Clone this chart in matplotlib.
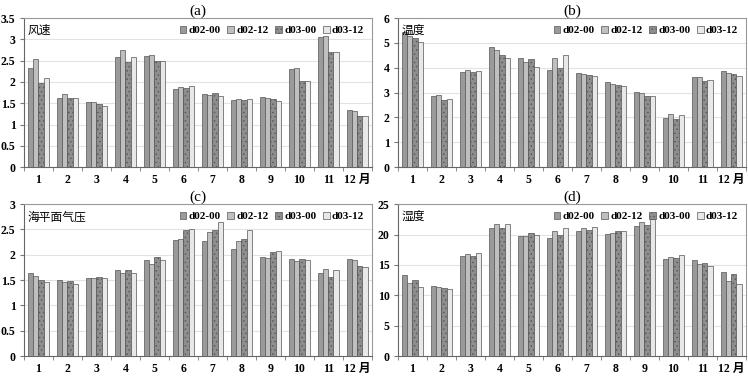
import numpy as np
import matplotlib
matplotlib.use('Agg')
import matplotlib.pyplot as plt

plt.rcParams['font.family'] = ['Liberation Serif', 'Noto Sans CJK SC']
plt.rcParams['hatch.color'] = '#6a6a6a'
plt.rcParams['hatch.linewidth'] = 0.5

months = ['1', '2', '3', '4', '5', '6', '7', '8', '9', '10', '11', '12 月']
series_names = ['d02-00', 'd02-12', 'd03-00', 'd03-12']

# (a) wind speed
wind = [
    [2.33, 1.63, 1.54, 2.58, 2.60, 1.84, 1.72, 1.57, 1.65, 2.30, 3.05, 1.33],
    [2.54, 1.71, 1.53, 2.74, 2.64, 1.88, 1.69, 1.60, 1.63, 2.33, 3.08, 1.32],
    [1.97, 1.62, 1.48, 2.48, 2.49, 1.87, 1.75, 1.58, 1.60, 2.02, 2.70, 1.19],
    [2.09, 1.62, 1.44, 2.59, 2.49, 1.90, 1.68, 1.60, 1.56, 2.02, 2.70, 1.21],
]

# (b) temperature
temp = [
    [5.45, 2.87, 3.85, 4.82, 4.41, 3.93, 3.81, 3.43, 3.01, 1.98, 3.61, 3.88],
    [5.30, 2.91, 3.90, 4.71, 4.22, 4.39, 3.76, 3.33, 2.98, 2.12, 3.64, 3.79],
    [5.18, 2.72, 3.84, 4.51, 4.36, 3.99, 3.70, 3.31, 2.88, 1.93, 3.47, 3.76],
    [5.05, 2.74, 3.88, 4.40, 4.02, 4.52, 3.68, 3.25, 2.88, 2.09, 3.52, 3.68],
]

# (c) sea level pressure
slp = [
    [1.64, 1.51, 1.55, 1.70, 1.90, 2.30, 2.28, 2.11, 1.95, 1.91, 1.64, 1.91],
    [1.58, 1.47, 1.54, 1.65, 1.82, 2.32, 2.45, 2.28, 1.94, 1.87, 1.72, 1.89],
    [1.50, 1.48, 1.56, 1.69, 1.95, 2.48, 2.48, 2.31, 2.06, 1.91, 1.57, 1.77],
    [1.46, 1.42, 1.54, 1.65, 1.89, 2.50, 2.65, 2.48, 2.07, 1.89, 1.69, 1.76],
]

# (d) humidity
humid = [
    [13.4, 11.6, 16.5, 21.0, 19.8, 19.4, 20.5, 20.1, 21.4, 16.0, 15.8, 13.8],
    [12.1, 11.3, 16.8, 21.7, 19.7, 20.5, 21.0, 20.3, 22.1, 16.3, 15.2, 12.4],
    [12.5, 11.2, 16.4, 21.0, 20.3, 19.9, 20.8, 20.5, 21.6, 16.2, 15.3, 13.5],
    [11.3, 11.0, 16.9, 21.7, 20.0, 21.1, 21.3, 20.6, 22.5, 16.6, 14.8, 11.8],
]

colors = ['#9a9a9a', '#bfbfbf', '#8e8e8e', '#e8e8e8']
hatches = [None, None, '....', None]

panels = [
    ('(a)', '风速', wind, 3.5, 0.5, [0.032, 0.558, 0.465, 0.394]),
    ('(b)', '温度', temp, 6, 1, [0.532, 0.558, 0.465, 0.394]),
    ('(c)', '海平面气压', slp, 3, 0.5, [0.032, 0.058, 0.465, 0.402]),
    ('(d)', '湿度', humid, 25, 5, [0.532, 0.058, 0.465, 0.402]),
]

fig = plt.figure(figsize=(7.48, 3.78), dpi=100)

x = np.arange(len(months))
w = 0.18

for title, name, data, ymax, step, pos in panels:
    ax = fig.add_axes(pos)
    for i in range(4):
        ax.bar(x + (i - 1.5) * w, data[i], width=w, color=colors[i],
               edgecolor='#555555', linewidth=0.5, hatch=hatches[i],
               label=series_names[i], zorder=3)
    ax.set_xlim(-0.5, len(months) - 0.5)
    ax.set_ylim(0, ymax)
    yt = np.arange(0, ymax + step / 2, step)
    ax.set_yticks(yt)
    ax.set_yticklabels(['%g' % v for v in yt], fontweight='bold')
    ax.yaxis.grid(True, color='#e3e3e3', linewidth=0.8, zorder=0)
    ax.set_xticks(x)
    ax.set_xticklabels(months, fontweight='bold')
    ax.set_xticks(np.arange(-0.5, len(months), 1), minor=True)
    ax.tick_params(axis='x', which='major', length=0, pad=5, labelsize=8.5)
    ax.tick_params(axis='x', which='minor', length=3, color='#777777')
    ax.tick_params(axis='y', length=3, pad=3, labelsize=8.5, color='#777777')
    for s in ax.spines.values():
        s.set_color('#999999')
        s.set_linewidth(0.8)
    ax.spines['left'].set_color('#666666')
    ax.spines['bottom'].set_color('#666666')
    ax.set_title(title, fontsize=11, pad=2)
    ax.text(0.01, 0.96, name, transform=ax.transAxes, ha='left', va='top',
            fontsize=8.5, family=['Noto Sans CJK SC', 'DejaVu Sans'])
    ax.legend(loc='upper right', ncol=4, frameon=False,
              prop={'size': 8, 'weight': 'bold'},
              handlelength=0.6, handleheight=0.6, handletextpad=0.2,
              columnspacing=0.6, borderaxespad=0.3)

fig.savefig('out.png', dpi=100)
